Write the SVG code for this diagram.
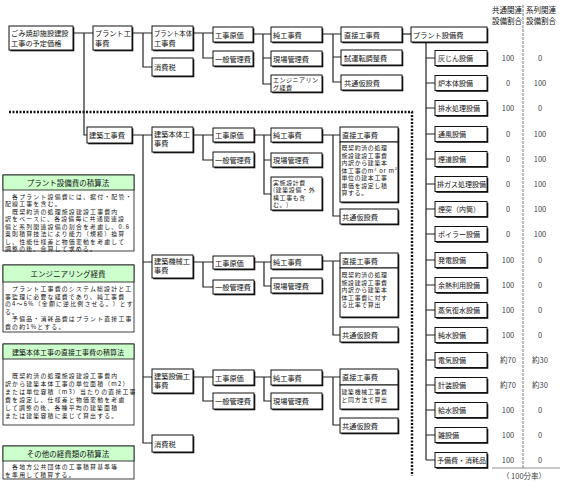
<svg xmlns="http://www.w3.org/2000/svg" width="562" height="495" viewBox="0 0 562 495">
<style>
text{font-family:"Noto Sans CJK JP","Noto Sans",sans-serif;fill:#111;font-size:7.2px}
.bx{fill:#fff;stroke:#111;stroke-width:1}
.sd{fill:#111}
.c{fill:none;stroke:#222;stroke-width:1.2}
.n{font-size:7.5px;fill:#444;text-anchor:middle}
.p{font-size:7px}
.q{font-size:5.9px;letter-spacing:1.2px}
.t{text-anchor:middle;font-size:7.5px}
.tb{fill:#ccffcc;stroke:#111;stroke-width:0.8}
.pb{fill:#fff;stroke:#111;stroke-width:0.8}
.s{font-size:5.9px;letter-spacing:0.7px}
</style>
<rect width="562" height="495" fill="#fff"/>

<!-- connectors -->
<g id="connectors">
<path class="c" d="M73,33 H93 M84,33 V135 H87"/>
<path class="c" d="M132,33 H152 M143,33 V67 H152"/>
<path class="c" d="M193,33 H213 M203,33 V58 H213"/>
<path class="c" d="M253,34 H271 M263,34 V84 H271 M263,58 H271"/>
<path class="c" d="M322,34 H341 M333,34 V82 H341 M333,57 H341"/>
<path class="c" d="M402,34 H411"/>
<path class="c" d="M426,42 V460 M426,58 H435 M426,83 H435 M426,108 H435 M426,134 H435 M426,159 H435 M426,184 H435 M426,209 H435 M426,234 H435 M426,260 H435 M426,285 H435 M426,310 H435 M426,335 H435 M426,360 H435 M426,385 H435 M426,410 H435 M426,435 H435 M426,460 H435"/>
<path class="c" d="M132,135 H152 M143,135 V443 H152 M143,262 H152 M143,377 H152"/>
<path class="c" d="M193,135 H213 M203,135 V160 H213"/>
<path class="c" d="M254,135 H271 M264,135 V194 H271 M264,160 H271"/>
<path class="c" d="M322,135 H340 M333,135 V216 H340"/>
<path class="c" d="M193,262 H213 M203,262 V287 H213"/>
<path class="c" d="M254,262 H271 M264,262 V286 H271"/>
<path class="c" d="M322,261 H340 M333,261 V335 H340"/>
<path class="c" d="M193,377 H213 M203,377 V401 H213"/>
<path class="c" d="M254,377 H271 M264,377 V401 H271"/>
<path class="c" d="M322,377 H340 M333,377 V425 H340"/>
</g>

<!-- dotted boundary -->
<path d="M9,112 H412 V476" fill="none" stroke="#111" stroke-width="2.4" stroke-dasharray="2,1.5"/>
<!-- column divider -->
<path d="M523,5 V468" stroke="#555" stroke-width="0.8" stroke-dasharray="3,1"/>
<path d="M492,468 H560" stroke="#777" stroke-width="0.8"/>

<!-- top level -->
<g id="n-yotei"><rect class="sd" x="10.3" y="27.3" width="64" height="24"/><rect class="bx" x="9" y="26" width="64" height="24"/><text x="11" y="36">ごみ焼却施設建設</text><text x="11" y="46">工事の予定価格</text></g>
<g id="n-plant"><rect class="sd" x="94.3" y="27.3" width="39" height="24"/><rect class="bx" x="93" y="26" width="39" height="24"/><text x="95" y="36">プラント工</text><text x="95" y="46">事費</text></g>
<g id="n-plant-hontai"><rect class="sd" x="153.3" y="27.3" width="41" height="24"/><rect class="bx" x="152" y="26" width="41" height="24"/><text x="154" y="36" textLength="38" lengthAdjust="spacingAndGlyphs">プラント本体</text><text x="154" y="46">工事費</text></g>
<g id="n-shohi1"><rect class="sd" x="153.3" y="59.3" width="41" height="18"/><rect class="bx" x="152" y="58" width="41" height="18"/><text x="154" y="70">消費税</text></g>
<g id="n-genka1"><rect class="sd" x="214.3" y="28.3" width="40" height="15"/><rect class="bx" x="213" y="27" width="40" height="15"/><text x="215" y="37.5">工事原価</text></g>
<g id="n-ippan1"><rect class="sd" x="214.3" y="52.3" width="40" height="15"/><rect class="bx" x="213" y="51" width="40" height="15"/><text x="215" y="61.5">一般管理費</text></g>
<g id="n-jun1"><rect class="sd" x="272.3" y="28.3" width="51" height="15"/><rect class="bx" x="271" y="27" width="51" height="15"/><text x="273" y="37.5">純工事費</text></g>
<g id="n-genba1"><rect class="sd" x="272.3" y="52.3" width="51" height="15"/><rect class="bx" x="271" y="51" width="51" height="15"/><text x="273" y="61.5">現場管理費</text></g>
<g id="n-eng"><rect class="sd" x="272.3" y="76.3" width="51" height="17"/><rect class="bx" x="271" y="75" width="51" height="17"/><text x="273" y="81.6" style="font-size:6.1px;letter-spacing:0.4px">エンジニアリン</text><text x="273" y="90.2" style="font-size:6.1px;letter-spacing:0.4px">グ経費</text></g>
<g id="n-choku1"><rect class="sd" x="342.3" y="28.3" width="61" height="15"/><rect class="bx" x="341" y="27" width="61" height="15"/><text x="344" y="37.5">直接工事費</text></g>
<g id="n-shiunten"><rect class="sd" x="342.3" y="51.3" width="61" height="15"/><rect class="bx" x="341" y="50" width="61" height="15"/><text x="344" y="60.5">試運転調整費</text></g>
<g id="n-kyotsu1"><rect class="sd" x="342.3" y="76.3" width="61" height="15"/><rect class="bx" x="341" y="75" width="61" height="15"/><text x="344" y="85.5">共通仮設費</text></g>
<g id="n-plant-setsubi"><rect class="sd" x="412.3" y="28.3" width="76" height="15"/><rect class="bx" x="411" y="27" width="76" height="15"/><text x="413" y="37.5">プラント設備費</text></g>

<!-- header -->
<g id="header">
<text class="t" x="507" y="13">共通関連</text><text class="t" x="507" y="24">設備割合</text>
<text class="t" x="541" y="13">系列関連</text><text class="t" x="541" y="24">設備割合</text>
</g>

<!-- equipment -->
<g id="eq1"><rect class="sd" x="436.3" y="51.8" width="52" height="15"/><rect class="bx" x="435" y="50.5" width="52" height="15"/><text x="438" y="60.5" class="p">灰じん設備</text><text class="n" x="508" y="61">100</text><text class="n" x="540" y="61">0</text></g>
<g id="eq2"><rect class="sd" x="436.3" y="76.8" width="52" height="15"/><rect class="bx" x="435" y="75.5" width="52" height="15"/><text x="438" y="85.5" class="p">炉本体設備</text><text class="n" x="508" y="86">0</text><text class="n" x="540" y="86">100</text></g>
<g id="eq3"><rect class="sd" x="436.3" y="101.8" width="52" height="15"/><rect class="bx" x="435" y="100.5" width="52" height="15"/><text x="438" y="110.5" class="p">排水処理設備</text><text class="n" x="508" y="111">100</text><text class="n" x="540" y="111">0</text></g>
<g id="eq4"><rect class="sd" x="436.3" y="127.8" width="52" height="15"/><rect class="bx" x="435" y="126.5" width="52" height="15"/><text x="438" y="136.5" class="p">通風設備</text><text class="n" x="508" y="137">0</text><text class="n" x="540" y="137">100</text></g>
<g id="eq5"><rect class="sd" x="436.3" y="152.8" width="52" height="15"/><rect class="bx" x="435" y="151.5" width="52" height="15"/><text x="438" y="161.5" class="p">煙道設備</text><text class="n" x="508" y="162">0</text><text class="n" x="540" y="162">100</text></g>
<g id="eq6"><rect class="sd" x="436.3" y="177.8" width="52" height="15"/><rect class="bx" x="435" y="176.5" width="52" height="15"/><text x="437" y="186.5" class="p" textLength="49" lengthAdjust="spacingAndGlyphs">排ガス処理設備</text><text class="n" x="508" y="187">0</text><text class="n" x="540" y="187">100</text></g>
<g id="eq7"><rect class="sd" x="436.3" y="202.8" width="52" height="15"/><rect class="bx" x="435" y="201.5" width="52" height="15"/><text x="438" y="211.5" class="p">煙突（内筒）</text><text class="n" x="508" y="212">0</text><text class="n" x="540" y="212">100</text></g>
<g id="eq8"><rect class="sd" x="436.3" y="227.8" width="52" height="15"/><rect class="bx" x="435" y="226.5" width="52" height="15"/><text x="438" y="236.5" class="p">ボイラー設備</text><text class="n" x="508" y="237">0</text><text class="n" x="540" y="237">100</text></g>
<g id="eq9"><rect class="sd" x="436.3" y="253.8" width="52" height="15"/><rect class="bx" x="435" y="252.5" width="52" height="15"/><text x="438" y="262.5" class="p">発電設備</text><text class="n" x="508" y="263">100</text><text class="n" x="540" y="263">0</text></g>
<g id="eq10"><rect class="sd" x="436.3" y="278.8" width="52" height="15"/><rect class="bx" x="435" y="277.5" width="52" height="15"/><text x="438" y="287.5" class="p">余熱利用設備</text><text class="n" x="508" y="288">100</text><text class="n" x="540" y="288">0</text></g>
<g id="eq11"><rect class="sd" x="436.3" y="303.8" width="52" height="15"/><rect class="bx" x="435" y="302.5" width="52" height="15"/><text x="438" y="312.5" class="p">蒸気復水設備</text><text class="n" x="508" y="313">100</text><text class="n" x="540" y="313">0</text></g>
<g id="eq12"><rect class="sd" x="436.3" y="328.8" width="52" height="15"/><rect class="bx" x="435" y="327.5" width="52" height="15"/><text x="438" y="337.5" class="p">純水設備</text><text class="n" x="508" y="338">100</text><text class="n" x="540" y="338">0</text></g>
<g id="eq13"><rect class="sd" x="436.3" y="353.8" width="52" height="15"/><rect class="bx" x="435" y="352.5" width="52" height="15"/><text x="438" y="362.5" class="p">電気設備</text><text class="n" x="508" y="363">約70</text><text class="n" x="540" y="363">約30</text></g>
<g id="eq14"><rect class="sd" x="436.3" y="378.8" width="52" height="15"/><rect class="bx" x="435" y="377.5" width="52" height="15"/><text x="438" y="387.5" class="p">計装設備</text><text class="n" x="508" y="388">約70</text><text class="n" x="540" y="388">約30</text></g>
<g id="eq15"><rect class="sd" x="436.3" y="403.8" width="52" height="15"/><rect class="bx" x="435" y="402.5" width="52" height="15"/><text x="438" y="412.5" class="p">給水設備</text><text class="n" x="508" y="413">100</text><text class="n" x="540" y="413">0</text></g>
<g id="eq16"><rect class="sd" x="436.3" y="428.8" width="52" height="15"/><rect class="bx" x="435" y="427.5" width="52" height="15"/><text x="438" y="437.5" class="p">雑設備</text><text class="n" x="508" y="438">100</text><text class="n" x="540" y="438">0</text></g>
<g id="eq17"><rect class="sd" x="436.3" y="453.8" width="52" height="15"/><rect class="bx" x="435" y="452.5" width="52" height="15"/><text x="437" y="462.5" class="p" textLength="49" lengthAdjust="spacingAndGlyphs">予備費・消耗品</text><text class="n" x="508" y="463">100</text><text class="n" x="540" y="463">0</text></g>
<text class="n" x="524" y="479">（ 100分率）</text>

<!-- building side -->
<g id="n-kenchiku"><rect class="sd" x="88.3" y="128.3" width="45" height="16"/><rect class="bx" x="87" y="127" width="45" height="16"/><text x="89" y="138">建築工事費</text></g>
<g id="n-kenchiku-hontai"><rect class="sd" x="153.3" y="128.3" width="41" height="25"/><rect class="bx" x="152" y="127" width="41" height="25"/><text x="154" y="137">建築本体工</text><text x="154" y="146">事費</text></g>
<g id="n-genka2"><rect class="sd" x="214.3" y="129.3" width="41" height="14"/><rect class="bx" x="213" y="128" width="41" height="14"/><text x="215" y="138">工事原価</text></g>
<g id="n-ippan2"><rect class="sd" x="214.3" y="153.3" width="41" height="15"/><rect class="bx" x="213" y="152" width="41" height="15"/><text x="215" y="162.5">一般管理費</text></g>
<g id="n-jun2"><rect class="sd" x="272.3" y="129.3" width="51" height="14"/><rect class="bx" x="271" y="128" width="51" height="14"/><text x="273" y="138">純工事費</text></g>
<g id="n-genba2"><rect class="sd" x="272.3" y="154.3" width="51" height="14"/><rect class="bx" x="271" y="153" width="51" height="14"/><text x="273" y="163">現場管理費</text></g>
<g id="n-jisshi"><rect class="sd" x="272.3" y="178.3" width="51" height="33"/><rect class="bx" x="271" y="177" width="51" height="33"/><text class="s" x="273" y="184.5">実施設計費</text><text class="s" x="273" y="192">(建築設備・外</text><text class="s" x="273" y="199.5">構工事も含</text><text class="s" x="273" y="207">む。)</text></g>
<g id="n-choku2"><rect class="sd" x="341.3" y="128.3" width="58" height="75"/><rect class="bx" x="340" y="127" width="58" height="15"/><rect class="bx" x="340" y="142" width="58" height="60"/><text x="342" y="137.5">直接工事費</text>
<text class="s" x="341.5" y="150">既契約済の処理</text><text class="s" x="341.5" y="157.5">施設建設工事費</text><text class="s" x="341.5" y="165">内訳から建築本</text><text class="s" x="341.5" y="172.5">体工事のm² or m³</text><text class="s" x="341.5" y="180">単位の建本工事</text><text class="s" x="341.5" y="187.5">単価を設定し積</text><text class="s" x="341.5" y="195">算する。</text></g>
<g id="n-kyotsu2"><rect class="sd" x="341.3" y="210.3" width="58" height="15"/><rect class="bx" x="340" y="209" width="58" height="15"/><text x="342" y="219.5">共通仮設費</text></g>

<g id="n-kenchiku-kikai"><rect class="sd" x="153.3" y="256.3" width="41" height="23"/><rect class="bx" x="152" y="255" width="41" height="23"/><text x="154" y="264">建築機械工</text><text x="154" y="273">事費</text></g>
<g id="n-genka3"><rect class="sd" x="214.3" y="257.3" width="41" height="13"/><rect class="bx" x="213" y="256" width="41" height="13"/><text x="215" y="265.5">工事原価</text></g>
<g id="n-ippan3"><rect class="sd" x="214.3" y="281.3" width="41" height="14"/><rect class="bx" x="213" y="280" width="41" height="14"/><text x="215" y="290">一般管理費</text></g>
<g id="n-jun3"><rect class="sd" x="272.3" y="256.3" width="51" height="14"/><rect class="bx" x="271" y="255" width="51" height="14"/><text x="273" y="265">純工事費</text></g>
<g id="n-genba3"><rect class="sd" x="272.3" y="279.3" width="51" height="15"/><rect class="bx" x="271" y="278" width="51" height="15"/><text x="273" y="288.5">現場管理費</text></g>
<g id="n-choku3"><rect class="sd" x="341.3" y="254.3" width="58" height="64"/><rect class="bx" x="340" y="253" width="58" height="15"/><rect class="bx" x="340" y="268" width="58" height="49"/><text x="342" y="263.5">直接工事費</text>
<text class="s" x="341.5" y="277">既契約済の処理</text><text class="s" x="341.5" y="284.5">施設建設工事費</text><text class="s" x="341.5" y="292">内訳から建築本</text><text class="s" x="341.5" y="299.5">体工事費に対す</text><text class="s" x="341.5" y="307">る比率で算出</text></g>
<g id="n-kyotsu3"><rect class="sd" x="341.3" y="328.3" width="58" height="15"/><rect class="bx" x="340" y="327" width="58" height="15"/><text x="342" y="337.5">共通仮設費</text></g>

<g id="n-kenchiku-setsubi"><rect class="sd" x="153.3" y="370.3" width="41" height="24"/><rect class="bx" x="152" y="369" width="41" height="24"/><text x="154" y="378.5">建築設備工</text><text x="154" y="387.5">事費</text></g>
<g id="n-genka4"><rect class="sd" x="214.3" y="371.3" width="41" height="15"/><rect class="bx" x="213" y="370" width="41" height="15"/><text x="215" y="380.5">工事原価</text></g>
<g id="n-ippan4"><rect class="sd" x="214.3" y="394.3" width="41" height="16"/><rect class="bx" x="213" y="393" width="41" height="16"/><text x="215" y="404">一般管理費</text></g>
<g id="n-jun4"><rect class="sd" x="272.3" y="371.3" width="51" height="15"/><rect class="bx" x="271" y="370" width="51" height="15"/><text x="273" y="380.5">純工事費</text></g>
<g id="n-genba4"><rect class="sd" x="272.3" y="394.3" width="51" height="16"/><rect class="bx" x="271" y="393" width="51" height="16"/><text x="273" y="404">現場管理費</text></g>
<g id="n-choku4"><rect class="sd" x="341.3" y="370.3" width="58" height="40"/><rect class="bx" x="340" y="369" width="58" height="16"/><rect class="bx" x="340" y="385" width="58" height="24"/><text x="342" y="380">直接工事費</text>
<text class="s" x="341.5" y="394">建築機械工事費</text><text class="s" x="341.5" y="402">と同方法で算出</text></g>
<g id="n-kyotsu4"><rect class="sd" x="341.3" y="419.3" width="58" height="15"/><rect class="bx" x="340" y="418" width="58" height="15"/><text x="342" y="428.5">共通仮設費</text></g>
<g id="n-shohi2"><rect class="sd" x="153.3" y="436.3" width="41" height="17"/><rect class="bx" x="152" y="435" width="41" height="17"/><text x="154" y="446.5">消費税</text></g>

<!-- left notes -->
<g id="note-plant">
<rect class="pb" x="3" y="175" width="131" height="76"/><rect class="tb" x="3" y="175" width="131" height="15"/>
<text class="t" x="68" y="185.5">プラント設備費の積算法</text>
<text class="q" x="5" y="198.5">　各プラント設備費には、据付・配管・</text>
<text class="q" x="5" y="206">配線工事を含む。</text>
<text class="q" x="5" y="213.5">　既契約済の処理施設建設工事費内</text>
<text class="q" x="5" y="221">訳をベースに、各設備毎に共通関連設</text>
<text class="q" x="5" y="228.5">備と系列関連設備の割合を考慮し、0.6</text>
<text class="q" x="5" y="236">乗則積算技法により能力（規模）換算</text>
<text class="q" x="5" y="243.5">し、性能仕様差と物価変動を考慮して</text>
<text class="q" x="5" y="251">調整の後、合算して求める。</text>
</g>
<g id="note-eng">
<rect class="pb" x="3" y="265" width="131" height="67"/><rect class="tb" x="3" y="265" width="131" height="17"/>
<text class="t" x="68" y="276.5">エンジニアリング経費</text>
<text class="q" x="5" y="291">　プラント工事費のシステム総設計と工</text>
<text class="q" x="5" y="298.5">事監理に必要な経費であり、純工事費</text>
<text class="q" x="5" y="306">の4～6%（金額に逆比例させる。）とす</text>
<text class="q" x="5" y="313.5">る。</text>
<text class="q" x="5" y="321">　予備品・消耗品費はプラント直接工事</text>
<text class="q" x="5" y="328.5">費の約1%とする。</text>
</g>
<g id="note-kenchiku">
<rect class="pb" x="3" y="344" width="131" height="81"/><rect class="tb" x="3" y="344" width="131" height="15"/>
<text class="t" x="68" y="354.5" style="font-size:7px">建築本体工事の直接工事費の積算法</text>
<text class="q" x="5" y="377.5">　既契約済の処理施設建設工事費内</text>
<text class="q" x="5" y="385.5">訳から建築本体工事の単位面積（m2）</text>
<text class="q" x="5" y="393.5">または単位容積（m3）当たりの直接工事</text>
<text class="q" x="5" y="401.5">費を設定し、仕様差と物価変動を考慮</text>
<text class="q" x="5" y="409.5">して調整の後、各種平均の建築面積</text>
<text class="q" x="5" y="417.5">または建築容積に乗じて算出する。</text>
</g>
<g id="note-other">
<rect class="pb" x="3" y="446" width="131" height="33"/><rect class="tb" x="3" y="446" width="131" height="15"/>
<text class="t" x="68" y="456.5">その他の経費類の積算法</text>
<text class="q" x="5" y="469">　各地方公共団体の工事積算基準等</text>
<text class="q" x="5" y="476.5">を準用して積算する。</text>
</g>
</svg>
